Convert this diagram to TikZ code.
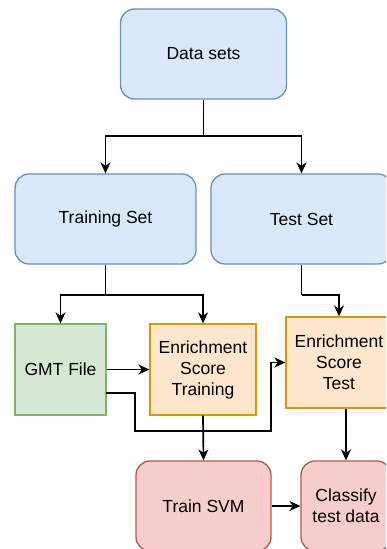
\documentclass[tikz,border=0pt]{standalone}
\usepackage{fontspec}
\setmainfont{Liberation Sans}
\usetikzlibrary{arrows.meta}

\definecolor{bluefill}{HTML}{DAE8FC}\definecolor{blueline}{HTML}{6C8EBF}
\definecolor{greenfill}{HTML}{D5E8D4}\definecolor{greenline}{HTML}{82B366}
\definecolor{orangefill}{HTML}{FFE6CC}\definecolor{orangeline}{HTML}{D79B00}
\definecolor{redfill}{HTML}{F8CECC}\definecolor{redline}{HTML}{B85450}

\tikzset{
  box/.style={draw, line width=1.3pt, align=center, inner sep=0pt,
    font=\fontsize{17.5}{21}\selectfont},
  bluebox/.style={box, rounded corners=14pt, fill=bluefill, draw=blueline},
  redbox/.style={box, rounded corners=14pt, fill=redfill, draw=redline},
  greenbox/.style={box, fill=greenfill, draw=greenline},
  orangebox/.style={box, fill=orangefill, draw=orangeline},
  arr/.style={line width=1.7pt, -{Stealth[length=11pt,width=10pt,inset=3.5pt]}},
  ln/.style={line width=1.7pt},
}

\begin{document}
\begin{tikzpicture}[x=1pt,y=-1pt]
\path[use as bounding box, clip] (0,0) rectangle (386,549);
\fill[white] (0,0) rectangle (386,549);

% boxes
\node[bluebox, minimum width=166pt, minimum height=90pt] (ds) at (203.5,54) {Data sets};
\node[bluebox, minimum width=181pt, minimum height=90pt] (tr) at (105.5,219) {Training Set};
\node[bluebox, minimum width=181pt, minimum height=90pt] (ts) at (301.5,219) {Test Set};
\node[greenbox, minimum width=91pt, minimum height=91pt] (gmt) at (60.5,369.5) {GMT File};
\node[orangebox, minimum width=106pt, minimum height=91pt] (est) at (203,369.5) {Enrichment\\Score\\Training};
\node[orangebox, minimum width=106pt, minimum height=91pt] (ett) at (339,362.5) {Enrichment\\Score\\Test};
\node[redbox, minimum width=135pt, minimum height=90pt] (svm) at (203.5,506) {Train SVM};
\node[redbox, minimum width=90pt, minimum height=90pt] (cls) at (346,506) {Classify\\test data};

% junction points of the split connectors
\coordinate (j1) at (203.5,136);
\coordinate (j2) at (105.5,295);
\coordinate (j3) at (301.5,295);
\coordinate (g1) at (106,393);
\coordinate (g2) at (135,431);
\coordinate (g3) at (271,431);

% connectors
\draw[ln] (ds.south) -- (j1);
\draw[arr] (j1) -| (tr.north);
\draw[arr] (j1) -| (ts.north);

\draw[ln] (tr.south) -- (j2);
\draw[arr] (j2) -| (gmt.north);
\draw[arr] (j2) -| (est.north);

\draw[ln] (ts.south) -- (j3);
\draw[arr] (j3) -| (ett.north);

\draw[arr] (gmt.east |- est.west) -- (est.west);
\draw[arr] (g1) -| (g2) -| (g3) |- (ett.west);

\draw[arr] (est.south) -- (svm.north);
\draw[arr] (ett.south -| cls.north) -- (cls.north);
\draw[arr] (svm.east) -- (cls.west);
\end{tikzpicture}
\end{document}
